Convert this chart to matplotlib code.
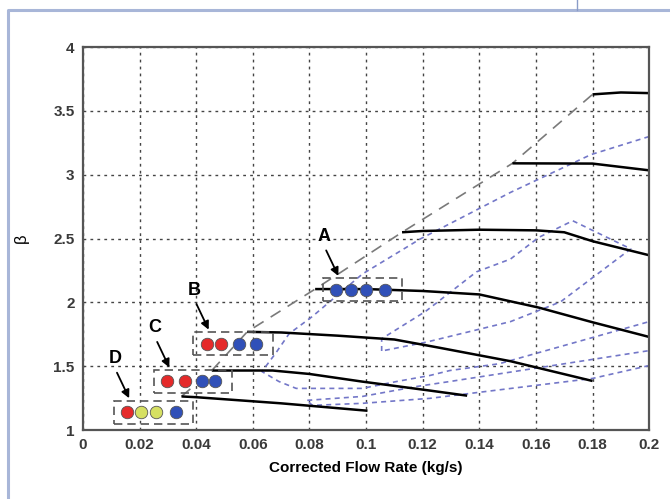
import matplotlib.pyplot as plt
from matplotlib.patches import Rectangle
from matplotlib.lines import Line2D

plt.rcParams['font.family'] = ['Liberation Sans', 'DejaVu Sans']

# axis ticks
x_ticks = [0, 0.02, 0.04, 0.06, 0.08, 0.1, 0.12, 0.14, 0.16, 0.18, 0.2]
x_tick_labels = ['0', '0.02', '0.04', '0.06', '0.08', '0.1', '0.12', '0.14', '0.16', '0.18', '0.2']
y_ticks = [1, 1.5, 2, 2.5, 3, 3.5, 4]
y_tick_labels = ['1', '1.5', '2', '2.5', '3', '3.5', '4']

# constant speed lines (solid black)
speed1_x = [0.0348, 0.040, 0.070, 0.1005]
speed1_y = [1.264, 1.258, 1.210, 1.152]
speed2_x = [0.0455, 0.067, 0.080, 0.0987, 0.1225, 0.1357]
speed2_y = [1.467, 1.467, 1.440, 1.380, 1.310, 1.270]
speed3_x = [0.058, 0.070, 0.090, 0.110, 0.126, 0.151, 0.180]
speed3_y = [1.770, 1.765, 1.740, 1.710, 1.645, 1.540, 1.385]
speed4_x = [0.082, 0.100, 0.120, 0.140, 0.161, 0.180, 0.200]
speed4_y = [2.105, 2.105, 2.090, 2.063, 1.960, 1.845, 1.730]
speed5_x = [0.1127, 0.120, 0.140, 0.160, 0.170, 0.180, 0.200]
speed5_y = [2.550, 2.560, 2.570, 2.565, 2.550, 2.480, 2.370]
speed6_x = [0.1517, 0.180, 0.200]
speed6_y = [3.090, 3.088, 3.035]
speed7_x = [0.180, 0.190, 0.200]
speed7_y = [3.630, 3.645, 3.640]

# surge line (grey dashed)
surge_x = [0.0348, 0.0455, 0.058, 0.082, 0.1127, 0.1517, 0.180]
surge_y = [1.264, 1.467, 1.770, 2.105, 2.550, 3.090, 3.630]

# efficiency contours (blue dashed)
eff1_x = [0.1055, 0.1055, 0.121, 0.139, 0.151, 0.161, 0.173, 0.1935, 0.1687, 0.151, 0.1214, 0.1055]
eff1_y = [1.620, 1.716, 1.930, 2.240, 2.340, 2.510, 2.640, 2.420, 2.005, 1.850, 1.690, 1.620]
eff2_x = [0.200, 0.1794, 0.151, 0.119, 0.0987, 0.081, 0.0728, 0.0682, 0.0632,
          0.0692, 0.0753, 0.0987, 0.1108, 0.1225, 0.1296, 0.147, 0.200]
eff2_y = [3.300, 3.158, 2.862, 2.496, 2.223, 1.890, 1.755, 1.607, 1.459,
          1.381, 1.327, 1.327, 1.381, 1.428, 1.467, 1.520, 1.850]
eff3_x = [0.200, 0.180, 0.1225, 0.0987, 0.0811, 0.0789, 0.0987, 0.1179, 0.1296, 0.200]
eff3_y = [1.506, 1.405, 1.249, 1.210, 1.194, 1.233, 1.264, 1.342, 1.381, 1.623]

# operating points inside the labelled boxes
point_labels = ['A', 'B', 'C', 'D']
points_x = [
    [0.0895, 0.0945, 0.1000, 0.1066],
    [0.0437, 0.0487, 0.0551, 0.0611],
    [0.0298, 0.0359, 0.0419, 0.0465],
    [0.0156, 0.0206, 0.0259, 0.0330],
]
points_y = [2.098, 1.677, 1.381, 1.140]
points_colors = [
    ['#3050b8', '#3050b8', '#3050b8', '#3050b8'],
    ['#e52a2a', '#e52a2a', '#3050b8', '#3050b8'],
    ['#e52a2a', '#e52a2a', '#3050b8', '#3050b8'],
    ['#e52a2a', '#d6e062', '#d6e062', '#3050b8'],
]

fig = plt.figure(figsize=(6.70, 4.99), dpi=100)
ax = fig.add_axes([0.1239, 0.138, 0.845, 0.7675])

ax.set_xlim(0, 0.2)
ax.set_ylim(1, 4)
ax.set_xticks(x_ticks)
ax.set_xticklabels(x_tick_labels)
ax.set_yticks(y_ticks)
ax.set_yticklabels(y_tick_labels)
ax.tick_params(length=0, pad=6, labelsize=11, labelcolor='#3a3a3a')
for lab in ax.get_xticklabels() + ax.get_yticklabels():
    lab.set_fontweight('bold')
ax.grid(True, color='#444444', linestyle=(0, (2, 3)), linewidth=1.0)
ax.set_axisbelow(True)
for sp in ax.spines.values():
    sp.set_color('#555555')
    sp.set_linewidth(1.6)

blue = '#7377c8'
for ex, ey in [(eff1_x, eff1_y), (eff2_x, eff2_y), (eff3_x, eff3_y)]:
    ax.plot(ex, ey, color=blue, linestyle=(0, (3, 2.5)), linewidth=1.2)

ax.plot(surge_x, surge_y, color='#7a7a7a', linestyle=(0, (7, 5)), linewidth=1.2)

for sx, sy in [(speed1_x, speed1_y), (speed2_x, speed2_y), (speed3_x, speed3_y),
               (speed4_x, speed4_y), (speed5_x, speed5_y), (speed6_x, speed6_y),
               (speed7_x, speed7_y)]:
    ax.plot(sx, sy, color='black', linewidth=1.8, solid_capstyle='butt')

for lbl, px, py, cols in zip(point_labels, points_x, points_y, points_colors):
    left = min(px) - 0.0048
    right = max(px) + 0.006
    box = Rectangle((left, py - 0.09), right - left, 0.18, fill=False,
                    edgecolor='#555555', linestyle=(0, (5, 3)), linewidth=1.2, zorder=4)
    ax.add_patch(box)
    for x, c in zip(px, cols):
        ax.plot(x, py, 'o', color=c, markersize=9, markeredgecolor='#555555',
                markeredgewidth=0.6, zorder=5)
    ax.annotate('', xy=(left + 0.0055, py + 0.11), xytext=(left + 0.0012, py + 0.31),
                arrowprops=dict(arrowstyle='-|>', color='black', lw=1.3,
                                mutation_scale=12, shrinkA=0, shrinkB=0), zorder=6)
    ax.text(left + 0.0005, py + 0.42, lbl, fontsize=13, fontweight='bold',
            ha='center', va='center', zorder=6)

ax.set_xlabel('Corrected Flow Rate (kg/s)', fontsize=11, fontweight='bold', labelpad=6)
ax.set_ylabel('β', fontsize=12, labelpad=18)

# page frame
fig.add_artist(Line2D([8 / 670, 8 / 670, 1.0], [0.0, 1 - 10 / 499, 1 - 10 / 499],
                      transform=fig.transFigure, color='#a8b6d8', linewidth=2.2))
fig.add_artist(Line2D([577 / 670, 577 / 670], [1 - 10 / 499, 1.0],
                      transform=fig.transFigure, color='#8a9cc8', linewidth=1.0))

fig.savefig('out.png', dpi=100)
